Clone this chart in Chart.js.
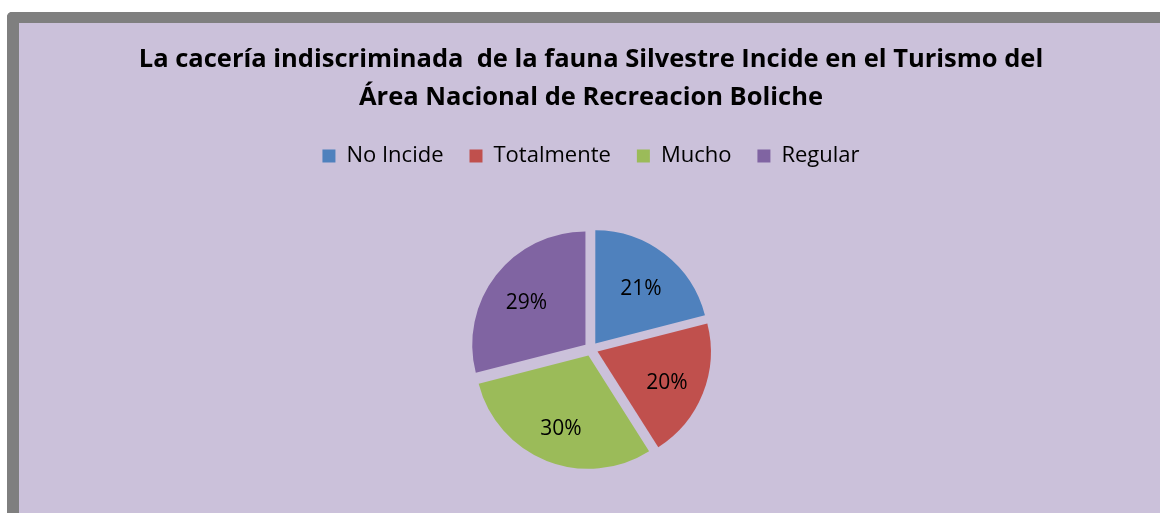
<!DOCTYPE html>
<html>
<head>
<meta charset="utf-8">
<title>La cacería indiscriminada de la fauna Silvestre</title>
<script src="https://cdn.jsdelivr.net/npm/chart.js@4.4.1/dist/chart.umd.min.js"></script>
<style>
  html, body { margin: 0; padding: 0; background: #ffffff; overflow: hidden; }
  .frame {
    position: absolute;
    left: 7px;
    top: 12px;
    width: 1141px;
    height: 490px;
    border-left: 12px solid #7f7f7f;
    border-top: 11px solid #7f7f7f;
    border-top-left-radius: 5px;
    background: #cbc1da;
    overflow: hidden;
  }
  canvas { display: block; }
</style>
</head>
<body>
<div class="frame">
  <canvas id="pieChart" width="1141" height="499"></canvas>
</div>
<script>
// Chart data
const categories = ['No Incide', 'Totalmente', 'Mucho', 'Regular'];
const percentValues = [21, 20, 30, 29];
const sliceColors = ['#4f81bd', '#c0504d', '#9bbb59', '#8064a2'];
const titleLines = [
  'La cacería indiscriminada  de la fauna Silvestre Incide en el Turismo del',
  'Área Nacional de Recreacion Boliche'
];

// Percent labels inside each slice
const sliceLabels = {
  id: 'sliceLabels',
  afterDatasetsDraw(chart) {
    const ctx = chart.ctx;
    const meta = chart.getDatasetMeta(0);
    ctx.save();
    ctx.font = '21px "Open Sans"';
    ctx.fillStyle = '#000000';
    ctx.textAlign = 'center';
    ctx.textBaseline = 'middle';
    meta.data.forEach((arc, i) => {
      const p = arc.getProps(['x', 'y', 'startAngle', 'endAngle', 'outerRadius']);
      const mid = (p.startAngle + p.endAngle) / 2;
      const r = p.outerRadius * 0.66 + 7;
      ctx.fillText(percentValues[i] + '%', p.x + Math.cos(mid) * r, p.y + Math.sin(mid) * r + 4);
    });
    ctx.restore();
  }
};

Chart.defaults.font.family = '"Open Sans"';

new Chart(document.getElementById('pieChart'), {
  type: 'pie',
  data: {
    labels: categories,
    datasets: [{
      data: percentValues,
      backgroundColor: sliceColors,
      borderWidth: 0,
      offset: 28 // arc draws offset / 4 -> about 7px explode
    }]
  },
  options: {
    responsive: false,
    animation: false,
    radius: 113,
    layout: {
      padding: { top: 0, bottom: 1, left: 3, right: 0 }
    },
    plugins: {
      title: {
        display: true,
        text: titleLines,
        color: '#000000',
        font: { size: 25.5, weight: 'bold', lineHeight: 1.49 },
        padding: { top: 18, bottom: 2 }
      },
      legend: {
        position: 'top',
        labels: {
          color: '#000000',
          font: { size: 22 },
          boxWidth: 13,
          boxHeight: 13,
          padding: 26
        }
      },
      tooltip: { enabled: false }
    }
  },
  plugins: [sliceLabels]
});
</script>
</body>
</html>
